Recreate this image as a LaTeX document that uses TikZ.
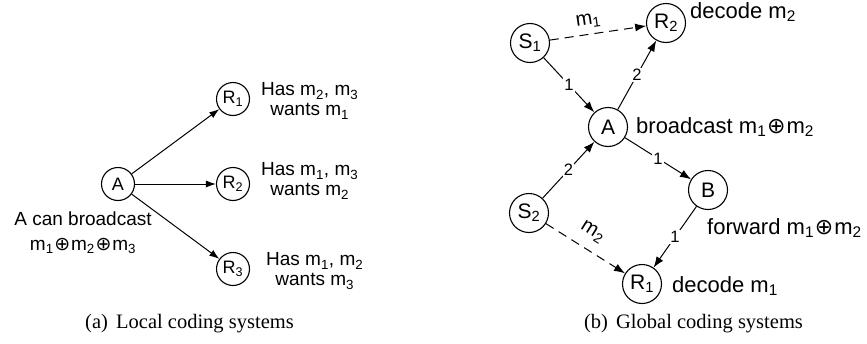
\documentclass[tikz,border=0pt]{standalone}
\usepackage{fontspec}
\setmainfont{Liberation Sans}
\newfontfamily\capfont{Liberation Serif}
\newfontfamily\symfont{DejaVu Sans}
\usetikzlibrary{arrows.meta}
\newcommand{\myoplus}{\kern0.04em{\symfont ⊕}\kern0.04em}
\begin{document}
\begin{tikzpicture}[x=1pt,y=-1pt,
  lnode/.style={circle,draw,line width=1.1pt,minimum size=33pt,inner sep=0pt,font=\fontsize{18}{18}\selectfont},
  rnode/.style={circle,draw,line width=1.1pt,minimum size=39pt,inner sep=0pt,font=\fontsize{21}{21}\selectfont},
  larr/.style={-{Latex[length=10pt,width=7pt]},line width=1pt},
  rarr/.style={-{Latex[length=11pt,width=8pt]},line width=1pt},
  dsh/.style={dash pattern=on 9pt off 6pt},
  elab/.style={fill=white,inner sep=1pt,font=\fontsize{16.5}{16.5}\selectfont},
  mlab/.style={inner sep=1pt,font=\fontsize{20}{20}\selectfont},
  ltext/.style={inner sep=0pt,align=center,font=\fontsize{19}{20}\selectfont},
  rtext/.style={inner sep=0pt,anchor=west,font=\fontsize{22}{22}\selectfont},
  captext/.style={inner sep=0pt,font=\capfont\fontsize{20.5}{20.5}\selectfont}]
\useasboundingbox (0,0) rectangle (867,343);
% ---------- (a) ----------
\node[lnode] (A) at (118,184) {A};
\node[lnode] (R1) at (233,99) {R\textsubscript{1}};
\node[lnode] (R2) at (233,184) {R\textsubscript{2}};
\node[lnode] (R3) at (233,269) {R\textsubscript{3}};
\draw[larr] (A) -- (R1);
\draw[larr] (A) -- (R2);
\draw[larr] (A) -- (R3);
\node[ltext,anchor=west] (t1) at (261,101) {Has m\textsubscript{2}, m\textsubscript{3}\\wants m\textsubscript{1}};
\node[ltext,anchor=west] (t2) at (261,181) {Has m\textsubscript{1}, m\textsubscript{3}\\wants m\textsubscript{2}};
\node[ltext,anchor=west] (t3) at (266,271) {Has m\textsubscript{1}, m\textsubscript{2}\\wants m\textsubscript{3}};
\node[ltext,font=\fontsize{19}{25}\selectfont] (ta) at (83,233) {A can broadcast\\m\textsubscript{1}\myoplus m\textsubscript{2}\myoplus m\textsubscript{3}};
\node[captext] (capa) at (189.5,324) {(a)\hspace{0.4em}Local coding systems};
% ---------- (b) ----------
\node[rnode] (S1) at (530,43) {S\textsubscript{1}};
\node[rnode] (Q2) at (666,23) {R\textsubscript{2}};
\node[rnode] (AA) at (608,127) {A};
\node[rnode] (B) at (708,190) {B};
\node[rnode] (S2) at (529,213) {S\textsubscript{2}};
\node[rnode] (Q1) at (642,284) {R\textsubscript{1}};
\draw[rarr,dsh] (S1) -- node[sloped,above=5pt,mlab,pos=0.42] {m\textsubscript{1}} (Q2);
\draw[rarr] (S1) -- node[elab] {1} (AA);
\draw[rarr] (AA) -- node[elab] {2} (Q2);
\draw[rarr] (S2) -- node[elab] {2} (AA);
\draw[rarr] (AA) -- node[elab] {1} (B);
\draw[rarr] (B) -- node[elab] {1} (Q1);
\draw[rarr,dsh] (S2) -- node[sloped,above=9pt,mlab,pos=0.47] {m\textsubscript{2}} (Q1);
\node[rtext] (d2) at (690,12) {decode m\textsubscript{2}};
\node[rtext] (bc) at (636,127) {broadcast m\textsubscript{1}\myoplus m\textsubscript{2}};
\node[rtext] (fw) at (707,228) {forward m\textsubscript{1}\myoplus m\textsubscript{2}};
\node[rtext] (d1) at (672,286) {decode m\textsubscript{1}};
\node[captext] (capb) at (693.5,324) {(b)\hspace{0.4em}Global coding systems};
\end{tikzpicture}
\end{document}
